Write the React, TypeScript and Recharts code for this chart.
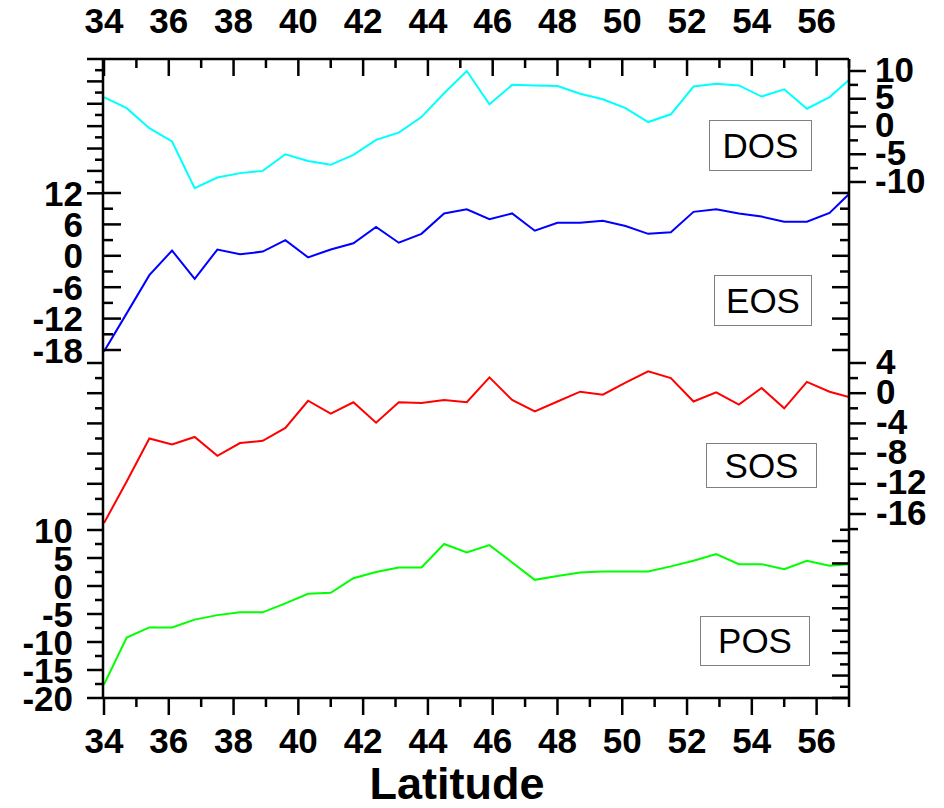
import { LineChart, Line, XAxis, YAxis } from "recharts";

// latitude of each sample (deg N)
const LATITUDE = [
  34.0, 34.7, 35.4, 36.1, 36.8, 37.5, 38.2, 38.9, 39.6, 40.3, 41.0, 41.7,
  42.4, 43.1, 43.8, 44.5, 45.2, 45.9, 46.6, 47.3, 48.0, 48.7, 49.4, 50.1,
  50.8, 51.5, 52.2, 52.9, 53.6, 54.3, 55.0, 55.7, 56.4, 57.0,
];

const DOS = [
  5.3, 3.3, -0.3, -2.7, -11.1, -9.2, -8.4, -8.0, -5.0, -6.2, -6.9, -5.1,
  -2.4, -1.1, 1.7, 6.0, 10.0, 4.0, 7.5, 7.4, 7.3, 5.9, 4.9, 3.3,
  0.8, 2.2, 7.2, 7.7, 7.4, 5.4, 6.7, 3.2, 5.3, 8.4,
];
const EOS = [
  -18.3, -11.0, -3.7, 1.0, -4.4, 1.2, 0.3, 0.8, 3.0, -0.3, 1.2, 2.4,
  5.5, 2.5, 4.2, 8.1, 8.9, 7.0, 8.1, 4.8, 6.3, 6.3, 6.7, 5.7,
  4.2, 4.5, 8.4, 8.9, 8.1, 7.5, 6.5, 6.5, 8.2, 11.8,
];
const SOS = [
  -17.2, -11.7, -6.0, -6.8, -5.8, -8.3, -6.6, -6.3, -4.6, -1.0, -2.7, -1.2,
  -3.9, -1.2, -1.3, -0.9, -1.2, 2.1, -0.9, -2.4, -1.1, 0.2, -0.2, 1.4,
  2.9, 2.0, -1.1, 0.1, -1.5, 0.7, -2.0, 1.5, 0.2, -0.5,
];
const POS = [
  -17.6, -9.2, -7.4, -7.4, -6.0, -5.2, -4.7, -4.7, -3.1, -1.4, -1.2, 1.4,
  2.5, 3.3, 3.3, 7.5, 6.0, 7.3, 4.2, 1.1, 1.8, 2.4, 2.6, 2.6,
  2.6, 3.5, 4.5, 5.7, 3.9, 3.9, 3.0, 4.5, 3.6, 3.9,
];

const X_TICKS = [
  34, 35, 36, 37, 38, 39, 40, 41, 42, 43, 44, 45, 46, 47, 48, 49, 50, 51, 52,
  53, 54, 55, 56, 57,
];
const X_LABELS = [34, 36, 38, 40, 42, 44, 46, 48, 50, 52, 54, 56];

const DOS_TICKS = [-10, -7.5, -5, -2.5, 0, 2.5, 5, 7.5, 10];
const DOS_LABELS = [-10, -5, 0, 5, 10];
const EOS_TICKS = [-18, -15, -12, -9, -6, -3, 0, 3, 6, 9, 12];
const EOS_LABELS = [-18, -12, -6, 0, 6, 12];
const SOS_TICKS = [-18, -16, -14, -12, -10, -8, -6, -4, -2, 0, 2, 4];
const SOS_LABELS = [-16, -12, -8, -4, 0, 4];
const POS_TICKS = [
  -20, -17.5, -15, -12.5, -10, -7.5, -5, -2.5, 0, 2.5, 5, 7.5, 10,
];
const POS_LABELS = [-20, -15, -10, -5, 0, 5, 10];
// unlabeled opposite-side ticks
const DOS_SIDE_TICKS = [0, 0.5, 1, 1.5, 2, 2.5, 3, 3.5, 4, 4.5, 5, 5.5, 6];
const SOS_SIDE_TICKS = [-16, -14, -12, -10, -8, -6, -4, -2, 0, 2, 4];
const POS_SIDE_TICKS = [
  0, 0.5, 1, 1.5, 2, 2.5, 3, 3.5, 4, 4.5, 5, 5.5, 6, 6.5, 7, 7.5,
];

const PANELS = [
  { key: "DOS", left: 709, top: 120, width: 103, height: 51 },
  { key: "EOS", left: 714, top: 275, width: 98, height: 51 },
  { key: "SOS", left: 706, top: 443, width: 111, height: 45 },
  { key: "POS", left: 700, top: 616, width: 110, height: 50 },
];

const W = 944;
const H = 808;
const PLOT = { left: 104, right: 849, top: 59, bottom: 698 };
const FONT = "'Liberation Sans', Arial, sans-serif";
const AXIS_W = 2.5;
// every axis takes 1px (recharts skips axes of size 0); 4 y axes a side
const Y_AXES_PER_SIDE = 4;

// stacked panels share one plot box: pick each axis domain so that
// two reference values land at the wanted heights
function fitDomain(v1: number, y1: number, v2: number, y2: number): [number, number] {
  const k = (v1 - v2) / (y1 - y2);
  const at = (y: number) => v1 + (y - y1) * k;
  return [at(PLOT.bottom), at(PLOT.top)];
}

const data = LATITUDE.map((lat, i) => ({
  lat,
  dos: DOS[i],
  eos: EOS[i],
  sos: SOS[i],
  pos: POS[i],
}));

type TickOpts = {
  side: "left" | "right";
  inward: boolean;
  isMajor: (v: number) => boolean;
  labels?: number[];
  gap?: number;
  dy?: number;
};

function yTick(o: TickOpts) {
  return (props: any) => {
    const { y, payload } = props;
    const x = o.side === "left" ? PLOT.left : PLOT.right;
    const v = payload.value as number;
    const len = o.isMajor(v) ? 17 : 9;
    const out = o.side === "left" ? -1 : 1;
    const dir = o.inward ? -out : out;
    const show = o.labels ? o.labels.includes(v) : false;
    return (
      <g>
        <line x1={x} y1={y} x2={x + dir * len} y2={y} stroke="#000" strokeWidth={AXIS_W} />
        {show && (
          <text
            x={x + out * (o.gap ?? 26)}
            y={y + (o.dy ?? 0)}
            textAnchor={o.side === "left" ? "end" : "start"}
            dominantBaseline="central"
            fontFamily={FONT}
            fontWeight="bold"
            fontSize={35}
            fill="#000"
          >
            {v}
          </text>
        )}
      </g>
    );
  };
}

function xTick(top: boolean) {
  return (props: any) => {
    const { x, payload } = props;
    const y = top ? PLOT.top : PLOT.bottom;
    const v = payload.value as number;
    const major = v % 2 === 0;
    const len = major ? 17 : 9;
    return (
      <g>
        <line x1={x} y1={y} x2={x} y2={y + len} stroke="#000" strokeWidth={AXIS_W} />
        {X_LABELS.includes(v) && (
          <text
            x={x}
            y={top ? y - 39 : y + 42}
            textAnchor="middle"
            dominantBaseline="central"
            fontFamily={FONT}
            fontWeight="bold"
            fontSize={35}
            fill="#000"
          >
            {v}
          </text>
        )}
      </g>
    );
  };
}

export default function App() {
  const axisLine = { stroke: "#000", strokeWidth: AXIS_W };
  const yCommon = {
    type: "number" as const,
    allowDataOverflow: true,
    interval: 0 as const,
    width: 1,
    tickSize: 0,
    tickMargin: 0,
    tickLine: false,
  };
  const xCommon = {
    dataKey: "lat",
    type: "number" as const,
    domain: [34, 57] as [number, number],
    allowDataOverflow: true,
    ticks: X_TICKS,
    interval: 0 as const,
    height: 1,
    tickSize: 0,
    tickMargin: 0,
    tickLine: false,
    axisLine,
  };
  return (
    <div style={{ position: "absolute", left: 0, top: 0, width: W, height: H, background: "#fff" }}>
      <LineChart
        width={W}
        height={H}
        data={data}
        margin={{
          top: PLOT.top - 1,
          right: W - PLOT.right - Y_AXES_PER_SIDE,
          bottom: H - PLOT.bottom - 1,
          left: PLOT.left - Y_AXES_PER_SIDE,
        }}
      >
        <XAxis {...xCommon} tick={xTick(false)} />
        <XAxis {...xCommon} xAxisId="top" orientation="top" tick={xTick(true)} />

        {/* left side */}
        <YAxis
          {...yCommon}
          yAxisId="eos"
          orientation="left"
          domain={fitDomain(12, 193, -18, 350)}
          ticks={EOS_TICKS}
          axisLine={axisLine}
          tick={yTick({ side: "left", inward: true, isMajor: (v) => v % 6 === 0, labels: EOS_LABELS, gap: 21 })}
        />
        <YAxis
          {...yCommon}
          yAxisId="dosSide"
          orientation="left"
          domain={fitDomain(6, 59, 0, 193.3)}
          ticks={DOS_SIDE_TICKS}
          axisLine={false}
          tick={yTick({ side: "left", inward: false, isMajor: (v) => Number.isInteger(v) })}
        />
        <YAxis
          {...yCommon}
          yAxisId="sosSide"
          orientation="left"
          domain={fitDomain(4, 363, -16, 514)}
          ticks={SOS_SIDE_TICKS}
          axisLine={false}
          tick={yTick({ side: "left", inward: false, isMajor: (v) => v % 4 === 0 })}
        />
        <YAxis
          {...yCommon}
          yAxisId="pos"
          orientation="left"
          domain={fitDomain(10, 530, -20, 698)}
          ticks={POS_TICKS}
          axisLine={false}
          tick={yTick({ side: "left", inward: false, isMajor: (v) => v % 5 === 0, labels: POS_LABELS, gap: 31 })}
        />

        {/* right side */}
        <YAxis
          {...yCommon}
          yAxisId="dos"
          orientation="right"
          domain={fitDomain(10, 71, -10, 182)}
          ticks={DOS_TICKS}
          axisLine={axisLine}
          tick={yTick({ side: "right", inward: false, isMajor: (v) => v % 5 === 0, labels: DOS_LABELS, gap: 26, dy: -2 })}
        />
        <YAxis
          {...yCommon}
          yAxisId="eosSide"
          orientation="right"
          domain={fitDomain(12, 193, -18, 350)}
          ticks={EOS_TICKS}
          axisLine={false}
          tick={yTick({ side: "right", inward: true, isMajor: (v) => v % 6 === 0 })}
        />
        <YAxis
          {...yCommon}
          yAxisId="sos"
          orientation="right"
          domain={fitDomain(4, 363, -16, 514)}
          ticks={SOS_TICKS}
          axisLine={false}
          tick={yTick({ side: "right", inward: false, isMajor: (v) => v % 4 === 0, labels: SOS_LABELS, gap: 27, dy: -2 })}
        />
        <YAxis
          {...yCommon}
          yAxisId="posSide"
          orientation="right"
          domain={fitDomain(7, 541, 0, 698)}
          ticks={POS_SIDE_TICKS}
          axisLine={false}
          tick={yTick({ side: "right", inward: true, isMajor: (v) => Number.isInteger(v) })}
        />

        <Line yAxisId="dos" dataKey="dos" stroke="#00ffff" strokeWidth={2} dot={false} isAnimationActive={false} />
        <Line yAxisId="eos" dataKey="eos" stroke="#0000ff" strokeWidth={2} dot={false} isAnimationActive={false} />
        <Line yAxisId="sos" dataKey="sos" stroke="#ff0000" strokeWidth={2} dot={false} isAnimationActive={false} />
        <Line yAxisId="pos" dataKey="pos" stroke="#00ff00" strokeWidth={2} dot={false} isAnimationActive={false} />
      </LineChart>

      {PANELS.map((p) => (
        <div
          key={p.key}
          style={{
            position: "absolute",
            left: p.left,
            top: p.top,
            width: p.width,
            height: p.height,
            boxSizing: "border-box",
            border: "1.5px solid #808080",
            background: "#fff",
            display: "flex",
            alignItems: "center",
            justifyContent: "center",
            fontFamily: FONT,
            fontSize: 35,
            color: "#000",
          }}
        >
          {p.key}
        </div>
      ))}

      <div
        style={{
          position: "absolute",
          left: 457,
          top: 761,
          height: 46,
          transform: "translateX(-50%)",
          fontFamily: FONT,
          fontWeight: "bold",
          fontSize: 45,
          lineHeight: "46px",
          whiteSpace: "nowrap",
          color: "#000",
        }}
      >
        Latitude
      </div>
    </div>
  );
}
